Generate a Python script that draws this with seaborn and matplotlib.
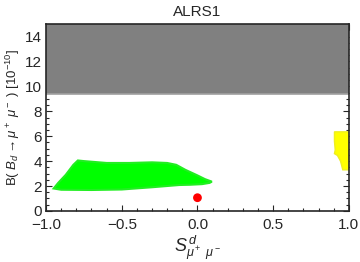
import numpy as np
import pandas as pd
import matplotlib
matplotlib.use("Agg")
import matplotlib.pyplot as plt
import seaborn as sns
from matplotlib.ticker import MultipleLocator

# excluded region (grey band)
band_lo, band_hi = 9.35, 15.0

# allowed green region outline (S, B)
green_s = [-0.95, -0.92, -0.87, -0.82, -0.79, -0.75, -0.6, -0.45, -0.3, -0.2, -0.14,
           -0.08, 0.0, 0.05, 0.095, 0.08, 0.03, -0.05, -0.12, -0.3, -0.5, -0.7, -0.9]
green_b = [1.8, 2.25, 2.9, 3.7, 4.05, 4.0, 3.85, 3.85, 3.9, 3.85, 3.7,
           3.3, 2.85, 2.55, 2.35, 2.25, 2.15, 2.1, 2.08, 1.9, 1.72, 1.68, 1.7]

# yellow region at the right edge
yellow_s = [0.905, 1.03, 1.03, 0.96, 0.945, 0.925, 0.905, 0.91, 0.905]
yellow_b = [6.35, 6.35, 3.3, 3.3, 4.0, 4.45, 4.6, 4.9, 5.6]

# SM point
sm = pd.DataFrame({"S": [0.0], "B": [1.06]})

sns.set_style("ticks")
plt.rcParams["font.family"] = ["Liberation Sans", "DejaVu Sans"]
plt.rcParams["mathtext.fontset"] = "custom"
plt.rcParams["mathtext.it"] = "Liberation Sans:italic"
plt.rcParams["mathtext.rm"] = "Liberation Sans"

fig = plt.figure(figsize=(3.6, 2.62), dpi=100)
ax = fig.add_axes([0.128, 0.195, 0.841, 0.713])

ax.axhspan(band_lo, band_hi, color="#808080", lw=0, zorder=1)
ax.axhline(band_lo, color="#a0a0a0", lw=1.2, zorder=1)
ax.fill(green_s, green_b, color="#00ff00", ec="#22ee22", lw=1.5, zorder=2)
ax.fill(yellow_s, yellow_b, color="#ffff00", ec="#eeee22", lw=1, zorder=2)
sns.scatterplot(data=sm, x="S", y="B", color="#ff0000", s=40, edgecolor="none", ax=ax, zorder=3)

ax.set_xlim(-1, 1)
ax.set_ylim(0, 15)
ax.xaxis.set_major_locator(MultipleLocator(0.5))
ax.xaxis.set_minor_locator(MultipleLocator(0.1))
ax.yaxis.set_major_locator(MultipleLocator(2))
ax.yaxis.set_minor_locator(MultipleLocator(0.5))
ax.set_xticklabels([f"{v:.1f}".replace("-", "\u2212") for v in ax.get_xticks()])
ax.tick_params(which="both", direction="in", top=True, right=True, labelsize=11, width=0.8, pad=3)
ax.tick_params(axis="x", which="major", pad=5)
ax.tick_params(which="major", length=4)
ax.tick_params(which="minor", length=2)
for sp in ax.spines.values():
    sp.set_linewidth(1.2)
    sp.set_zorder(5)

ax.set_title("ALRS1", fontsize=11, pad=6)
ax.set_xlabel(r"$S^{\,d}_{\mu^+\ \mu^-}$", fontsize=13, labelpad=1)
ax.set_ylabel(r"B( $B_d \rightarrow \mu^+\ \mu^-$ ) [$10^{-10}$]", fontsize=9.5)
ax.yaxis.set_label_coords(-0.078, 0.5)

fig.savefig("out.png", dpi=100)
